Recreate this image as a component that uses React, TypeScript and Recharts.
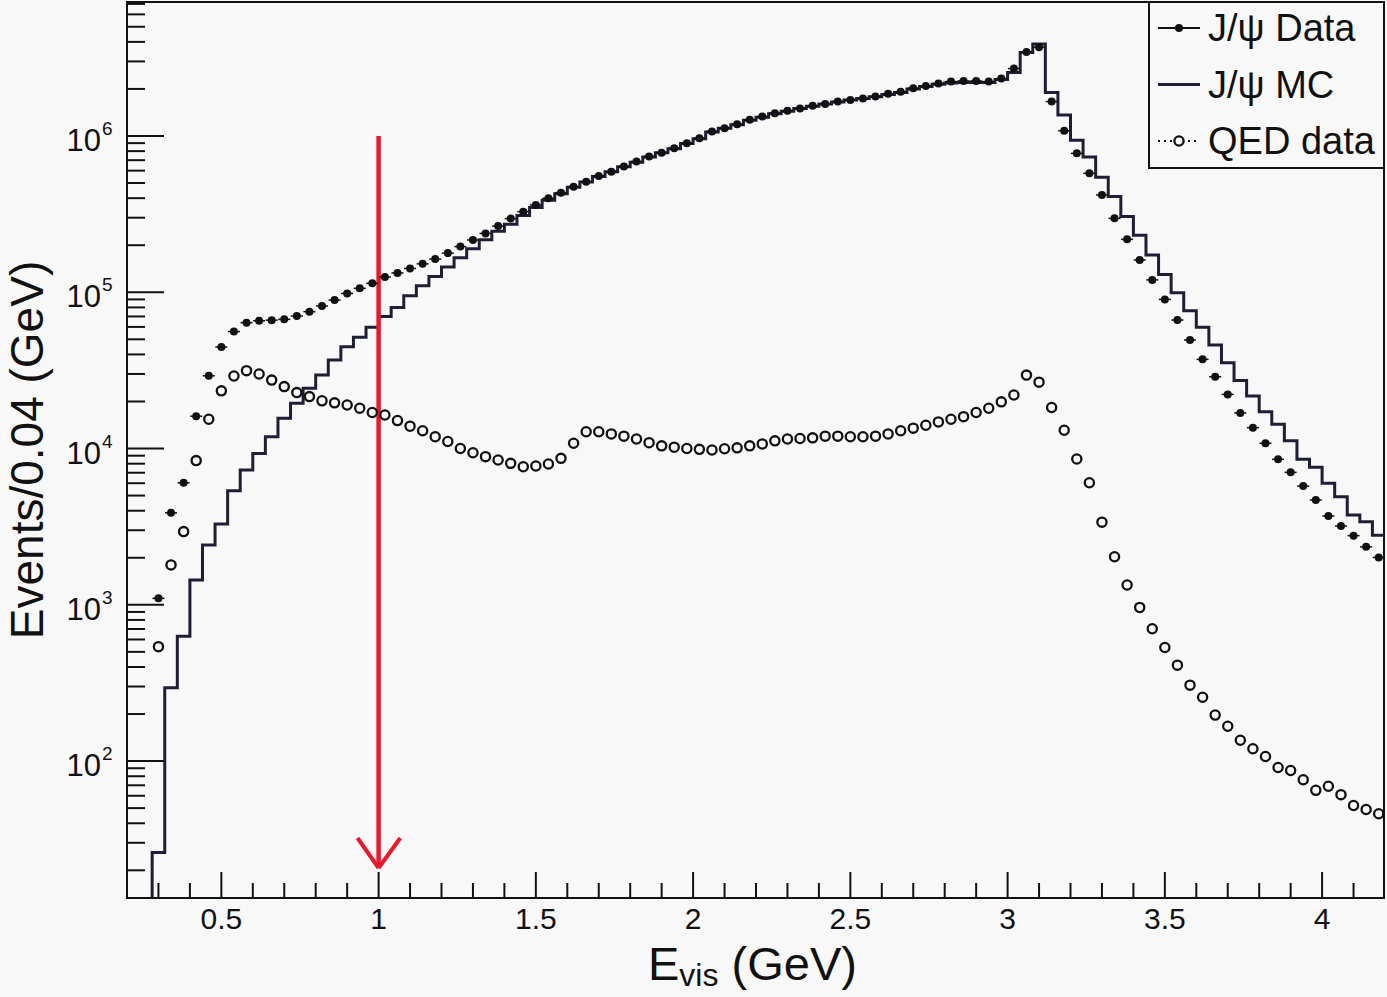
import React from "react";
import {
  ComposedChart,
  Label,
  Legend,
  Line,
  ReferenceLine,
  XAxis,
  YAxis,
} from "recharts";

const FONT = '"Liberation Sans", Arial, Helvetica, sans-serif';
const INK = "#111111";
const MC_COLOR = "#1e1e36";
const ARROW_RED = "#e8192c";
const PAPER = "#f8f8f8";

const CHART_W = 1387;
const CHART_H = 997;
const PLOT_LEFT = 127;
const PLOT_BOTTOM = 898;

// histogram binning: 100 bins of 0.04 GeV from 0.2 to 4.2
const BIN_LOW = 0.2;
const BIN_WIDTH = 0.04;
const X_DOMAIN: [number, number] = [0.2, 4.2];
const Y_DOMAIN: [number, number] = [13.3, 7.2e6];

// empty MC bins sit below the frame on a log axis
const MC_EMPTY = 1;

const JPSI_DATA: (number | null)[] = [
  null, null, 1100, 3880, 6040, 16100, 29200, 44600, 56000, 63900,
  65700, 66300, 67100, 70400, 75100, 81700, 89100, 98300, 106000, 114000,
  125000, 133000, 142000, 152000, 163000, 178000, 196000, 216000, 238000, 265000,
  296000, 328000, 362000, 399000, 434000, 474000, 510000, 555000, 591000, 637000,
  686000, 738000, 782000, 834000, 898000, 966000, 1070000, 1120000, 1190000, 1270000,
  1330000, 1400000, 1450000, 1500000, 1560000, 1600000, 1660000, 1700000, 1740000, 1790000,
  1860000, 1920000, 2020000, 2090000, 2170000, 2230000, 2250000, 2250000, 2230000, 2330000,
  2700000, 3450000, 3700000, 1660000, 1080000, 774000, 577000, 419000, 297000, 218000,
  161000, 120000, 90000, 66400, 49500, 37200, 28800, 22200, 16900, 13600,
  10800, 8530, 7040, 5750, 4680, 3700, 3190, 2770, 2350, 2010,
];

const JPSI_MC: number[] = [
  MC_EMPTY, MC_EMPTY, 26, 295, 630, 1440, 2410, 3290, 5370, 7280,
  9310, 11900, 15600, 19500, 24300, 29500, 36800, 44800, 51500, 59700,
  70000, 80000, 95000, 110000, 126000, 145000, 166000, 190000, 217000, 246000,
  272000, 310000, 348000, 388000, 427000, 470000, 508000, 550000, 590000, 635000,
  680000, 735000, 780000, 830000, 895000, 960000, 1060000, 1120000, 1180000, 1260000,
  1320000, 1390000, 1440000, 1500000, 1550000, 1600000, 1650000, 1700000, 1740000, 1780000,
  1840000, 1900000, 2000000, 2070000, 2140000, 2180000, 2200000, 2200000, 2200000, 2300000,
  2550000, 3420000, 3880000, 1900000, 1360000, 940000, 735000, 545000, 410000, 305000,
  232000, 173000, 130000, 99300, 76200, 59700, 45900, 35400, 27200, 21700,
  17200, 14300, 11200, 8530, 7580, 5990, 4920, 3750, 3400, 2790,
];

const QED_DATA: (number | null)[] = [
  null, null, 540, 1800, 2940, 8370, 15400, 23400, 29100, 31500,
  30000, 27400, 24900, 22800, 21500, 20200, 19600, 19000, 18100, 17000,
  16400, 15100, 13900, 13000, 11900, 11100, 10000, 9400, 8870, 8440,
  8040, 7650, 7730, 7960, 8650, 10800, 12800, 12800, 12400, 12000,
  11500, 10900, 10400, 10200, 10000, 9880, 9780, 9970, 10100, 10400,
  10700, 11200, 11500, 11600, 11700, 12000, 12000, 11900, 11900, 12000,
  12400, 13000, 13500, 14100, 14800, 15400, 16000, 17000, 18100, 19900,
  22000, 29500, 26600, 18300, 13100, 8570, 6040, 3380, 2030, 1340,
  962, 703, 533, 411, 306, 256, 197, 167, 136, 120,
  107, 91, 87, 76, 65, 69, 61, 52, 49, 46,
];

const X_TICKS = [
  0.3, 0.4, 0.5, 0.6, 0.7, 0.8, 0.9, 1, 1.1, 1.2, 1.3, 1.4, 1.5, 1.6, 1.7,
  1.8, 1.9, 2, 2.1, 2.2, 2.3, 2.4, 2.5, 2.6, 2.7, 2.8, 2.9, 3, 3.1, 3.2,
  3.3, 3.4, 3.5, 3.6, 3.7, 3.8, 3.9, 4, 4.1,
];
const Y_DECADES = [10, 100, 1000, 10000, 100000, 1000000];
const Y_MANTISSAS = [1, 2, 3, 4, 5, 6, 7, 8, 9];

// cut marker: arrow at E_vis = 1 GeV
const CUT_X = 1;
const CUT_TOP = 1e6;
const CUT_TIP = 20.7;
const HEAD_LEFT_X = 0.933;
const HEAD_RIGHT_X = 1.069;
const HEAD_Y = 32.2;

const Y_TICKS = Y_DECADES.flatMap((d) => Y_MANTISSAS.map((m) => m * d)).filter(
  (v) => v >= Y_DOMAIN[0] && v <= Y_DOMAIN[1]
);

const points = JPSI_DATA.map((v, i) => ({
  x: Number((BIN_LOW + BIN_WIDTH * (i + 0.5)).toFixed(2)),
  data: v,
  qed: QED_DATA[i],
}));

const mcSteps = [
  ...JPSI_MC.map((v, i) => ({
    x: Number((BIN_LOW + BIN_WIDTH * i).toFixed(2)),
    mc: v,
  })),
  { x: X_DOMAIN[1], mc: JPSI_MC[JPSI_MC.length - 1] },
];

function isMajorX(v: number) {
  return Math.abs(v * 2 - Math.round(v * 2)) < 1e-6;
}

function XTick(props: any) {
  const { x, payload } = props;
  const major = isMajorX(payload.value);
  return (
    <g>
      <line
        x1={x}
        x2={x}
        y1={PLOT_BOTTOM}
        y2={PLOT_BOTTOM - (major ? 26 : 15)}
        stroke={INK}
        strokeWidth={2}
      />
      {major && (
        <text
          x={x}
          y={929}
          textAnchor="middle"
          fontFamily={FONT}
          fontSize={30}
          fill={INK}
        >
          {String(payload.value)}
        </text>
      )}
    </g>
  );
}

function YTick(props: any) {
  const { y, payload } = props;
  const exp = Math.log10(payload.value);
  const major = Math.abs(exp - Math.round(exp)) < 1e-6;
  return (
    <g>
      <line
        x1={PLOT_LEFT}
        x2={PLOT_LEFT + (major ? 37 : 18)}
        y1={y}
        y2={y}
        stroke={INK}
        strokeWidth={2}
      />
      {major && (
        <g fontFamily={FONT} fill={INK}>
          <text x={101} y={y + 15} textAnchor="end" fontSize={31}>
            10
          </text>
          <text x={102} y={y - 1} fontSize={19}>
            {Math.round(exp)}
          </text>
        </g>
      )}
    </g>
  );
}

function DataDot(props: any) {
  const { cx, cy, value, index } = props;
  if (value == null || cx == null || cy == null) return <g key={`dd-${index}`} />;
  return (
    <g key={`dd-${index}`}>
      <line x1={cx - 6} x2={cx + 6} y1={cy} y2={cy} stroke={INK} strokeWidth={1.5} />
      <circle cx={cx} cy={cy} r={4} fill={INK} />
    </g>
  );
}

function QedDot(props: any) {
  const { cx, cy, value, index } = props;
  if (value == null || cx == null || cy == null) return <g key={`qd-${index}`} />;
  return (
    <circle
      key={`qd-${index}`}
      cx={cx}
      cy={cy}
      r={4.6}
      fill={PAPER}
      stroke={INK}
      strokeWidth={2.3}
    />
  );
}

function XTitle() {
  return (
    <text x={648} y={980} fontFamily={FONT} fontSize={47} fill={INK}>
      E
      <tspan fontSize={32} dy={6}>
        vis
      </tspan>
      <tspan dy={-6}> (GeV)</tspan>
    </text>
  );
}

function YTitle() {
  return (
    <text
      x={43}
      y={450}
      transform="rotate(-90 43 450)"
      textAnchor="middle"
      fontFamily={FONT}
      fontSize={46}
      fill={INK}
    >
      Events/0.04 (GeV)
    </text>
  );
}

function HistLegend() {
  const rows = [
    { label: "J/ψ Data", kind: "data" },
    { label: "J/ψ MC", kind: "mc" },
    { label: "QED data", kind: "qed" },
  ];
  return (
    <svg width={237} height={168} style={{ display: "block" }}>
      <rect x={1} y={1} width={235} height={166} fill={PAPER} stroke={INK} strokeWidth={2} />
      {rows.map((row, i) => {
        const cy = 27 + i * 56.5;
        return (
          <g key={row.label}>
            {row.kind === "data" && (
              <g>
                <line x1={10} x2={52} y1={cy} y2={cy} stroke={INK} strokeWidth={2} />
                <circle cx={31} cy={cy} r={4} fill={INK} />
              </g>
            )}
            {row.kind === "mc" && (
              <line x1={10} x2={52} y1={cy} y2={cy} stroke={MC_COLOR} strokeWidth={3} />
            )}
            {row.kind === "qed" && (
              <g>
                <line
                  x1={10}
                  x2={52}
                  y1={cy}
                  y2={cy}
                  stroke={INK}
                  strokeWidth={2}
                  strokeDasharray="2 4"
                />
                <circle cx={31} cy={cy} r={4.6} fill={PAPER} stroke={INK} strokeWidth={2.3} />
              </g>
            )}
            <text x={60} y={cy + 13} fontFamily={FONT} fontSize={38} fill={INK}>
              {row.label}
            </text>
          </g>
        );
      })}
    </svg>
  );
}

export default function App() {
  return (
    <div
      style={{
        position: "absolute",
        left: 0,
        top: 0,
        width: CHART_W,
        height: CHART_H,
        background: PAPER,
      }}
    >
      <ComposedChart
        width={CHART_W}
        height={CHART_H}
        data={points}
        margin={{ top: 2, right: 2, bottom: 0, left: 0 }}
      >
        <XAxis
          dataKey="x"
          type="number"
          domain={X_DOMAIN}
          allowDataOverflow
          ticks={X_TICKS}
          interval={0}
          height={99}
          axisLine={false}
          tickLine={false}
          tick={<XTick />}
        >
          <Label content={<XTitle />} />
        </XAxis>
        <YAxis
          type="number"
          scale="log"
          domain={Y_DOMAIN}
          allowDataOverflow
          ticks={Y_TICKS}
          interval={0}
          width={127}
          axisLine={false}
          tickLine={false}
          tick={<YTick />}
        >
          <Label content={<YTitle />} />
        </YAxis>
        <Legend
          layout="vertical"
          align="center"
          verticalAlign="middle"
          content={<HistLegend />}
          wrapperStyle={{ position: "absolute", left: 1148, top: 1, width: 237, height: 168 }}
        />
        <Line
          data={mcSteps}
          dataKey="mc"
          type="stepAfter"
          stroke={MC_COLOR}
          strokeWidth={3}
          dot={false}
          activeDot={false}
          isAnimationActive={false}
          legendType="none"
        />
        <Line
          dataKey="qed"
          stroke="none"
          dot={(p: any) => <QedDot {...p} />}
          activeDot={false}
          isAnimationActive={false}
        />
        <Line
          dataKey="data"
          stroke="none"
          dot={(p: any) => <DataDot {...p} />}
          activeDot={false}
          isAnimationActive={false}
        />
        <ReferenceLine
          segment={[
            { x: CUT_X, y: CUT_TOP },
            { x: CUT_X, y: CUT_TIP },
          ]}
          stroke={ARROW_RED}
          strokeWidth={4.5}
        />
        <ReferenceLine
          segment={[
            { x: HEAD_LEFT_X, y: HEAD_Y },
            { x: CUT_X, y: CUT_TIP },
          ]}
          stroke={ARROW_RED}
          strokeWidth={4}
        />
        <ReferenceLine
          segment={[
            { x: HEAD_RIGHT_X, y: HEAD_Y },
            { x: CUT_X, y: CUT_TIP },
          ]}
          stroke={ARROW_RED}
          strokeWidth={4}
        />
      </ComposedChart>
      <div
        style={{
          position: "absolute",
          left: 126,
          top: 1,
          width: 1259,
          height: 898,
          border: `2px solid ${INK}`,
          boxSizing: "border-box",
          pointerEvents: "none",
        }}
      />
    </div>
  );
}
